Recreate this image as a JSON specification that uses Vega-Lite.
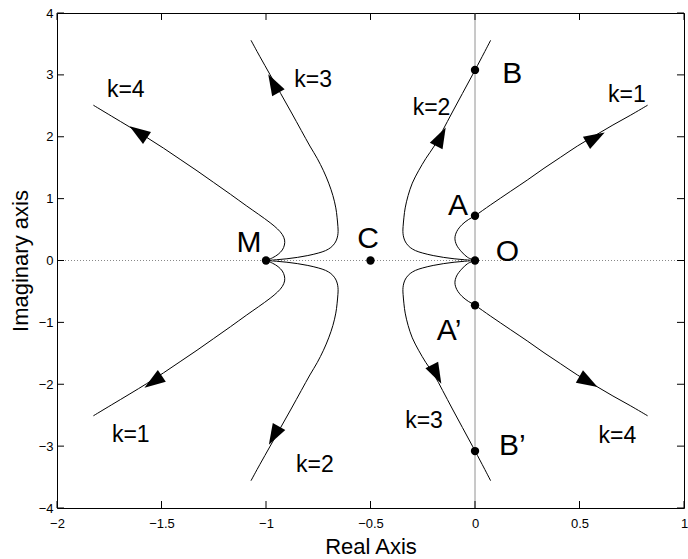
{
  "$schema": "https://vega.github.io/schema/vega-lite/v6.json",
  "width": 627,
  "height": 495,
  "autosize": {"type": "none"},
  "padding": {"left": 57, "top": 13, "right": 4, "bottom": 51},
  "config": {
    "font": "Liberation Sans",
    "view": {"stroke": "black", "strokeWidth": 1},
    "axis": {"grid": false, "domain": false, "ticks": false, "labelColor": "black", "titleColor": "black", "titleFontWeight": "normal", "labelFont": "Liberation Sans", "titleFont": "Liberation Sans"}
  },
  "datasets": {
    "zero": [{"v": 0}],
    "xticks": [{"v": -2}, {"v": -1.5}, {"v": -1}, {"v": -0.5}, {"v": 0}, {"v": 0.5}, {"v": 1}],
    "yticks": [{"v": -4}, {"v": -3}, {"v": -2}, {"v": -1}, {"v": 0}, {"v": 1}, {"v": 2}, {"v": 3}, {"v": 4}],
    "curves": [
      {"c": "U1", "t": 0, "x": -1, "y": 0}, {"c": "U1", "t": 1, "x": -0.968, "y": 0.045}, {"c": "U1", "t": 2, "x": -0.942, "y": 0.1}, {"c": "U1", "t": 3, "x": -0.922, "y": 0.17}, {"c": "U1", "t": 4, "x": -0.912, "y": 0.25}, {"c": "U1", "t": 5, "x": -0.911, "y": 0.33}, {"c": "U1", "t": 6, "x": -0.922, "y": 0.42}, {"c": "U1", "t": 7, "x": -0.945, "y": 0.51}, {"c": "U1", "t": 8, "x": -0.98, "y": 0.61}, {"c": "U1", "t": 9, "x": -1.035, "y": 0.745}, {"c": "U1", "t": 10, "x": -1.092, "y": 0.88}, {"c": "U1", "t": 11, "x": -1.17, "y": 1.07}, {"c": "U1", "t": 12, "x": -1.252, "y": 1.265}, {"c": "U1", "t": 13, "x": -1.33, "y": 1.45}, {"c": "U1", "t": 14, "x": -1.411, "y": 1.635}, {"c": "U1", "t": 15, "x": -1.49, "y": 1.815}, {"c": "U1", "t": 16, "x": -1.571, "y": 1.99}, {"c": "U1", "t": 17, "x": -1.651, "y": 2.155}, {"c": "U1", "t": 18, "x": -1.74, "y": 2.335}, {"c": "U1", "t": 19, "x": -1.826, "y": 2.51},
      {"c": "U2", "t": 0, "x": -1, "y": 0}, {"c": "U2", "t": 1, "x": -0.968, "y": -0.045}, {"c": "U2", "t": 2, "x": -0.942, "y": -0.1}, {"c": "U2", "t": 3, "x": -0.922, "y": -0.17}, {"c": "U2", "t": 4, "x": -0.912, "y": -0.25}, {"c": "U2", "t": 5, "x": -0.911, "y": -0.33}, {"c": "U2", "t": 6, "x": -0.922, "y": -0.42}, {"c": "U2", "t": 7, "x": -0.945, "y": -0.51}, {"c": "U2", "t": 8, "x": -0.98, "y": -0.61}, {"c": "U2", "t": 9, "x": -1.035, "y": -0.745}, {"c": "U2", "t": 10, "x": -1.092, "y": -0.88}, {"c": "U2", "t": 11, "x": -1.17, "y": -1.07}, {"c": "U2", "t": 12, "x": -1.252, "y": -1.265}, {"c": "U2", "t": 13, "x": -1.33, "y": -1.45}, {"c": "U2", "t": 14, "x": -1.411, "y": -1.635}, {"c": "U2", "t": 15, "x": -1.49, "y": -1.815}, {"c": "U2", "t": 16, "x": -1.571, "y": -1.99}, {"c": "U2", "t": 17, "x": -1.651, "y": -2.155}, {"c": "U2", "t": 18, "x": -1.74, "y": -2.335}, {"c": "U2", "t": 19, "x": -1.826, "y": -2.51},
      {"c": "V1", "t": 0, "x": -1, "y": 0}, {"c": "V1", "t": 1, "x": -0.95, "y": 0.012}, {"c": "V1", "t": 2, "x": -0.9, "y": 0.028}, {"c": "V1", "t": 3, "x": -0.85, "y": 0.05}, {"c": "V1", "t": 4, "x": -0.8, "y": 0.08}, {"c": "V1", "t": 5, "x": -0.75, "y": 0.12}, {"c": "V1", "t": 6, "x": -0.715, "y": 0.16}, {"c": "V1", "t": 7, "x": -0.69, "y": 0.21}, {"c": "V1", "t": 8, "x": -0.673, "y": 0.27}, {"c": "V1", "t": 9, "x": -0.663, "y": 0.33}, {"c": "V1", "t": 10, "x": -0.657, "y": 0.4}, {"c": "V1", "t": 11, "x": -0.655, "y": 0.47}, {"c": "V1", "t": 12, "x": -0.656, "y": 0.55}, {"c": "V1", "t": 13, "x": -0.66, "y": 0.7}, {"c": "V1", "t": 14, "x": -0.666, "y": 0.85}, {"c": "V1", "t": 15, "x": -0.68, "y": 1.05}, {"c": "V1", "t": 16, "x": -0.7, "y": 1.25}, {"c": "V1", "t": 17, "x": -0.725, "y": 1.45}, {"c": "V1", "t": 18, "x": -0.755, "y": 1.65}, {"c": "V1", "t": 19, "x": -0.79, "y": 1.85}, {"c": "V1", "t": 20, "x": -0.831, "y": 2.1}, {"c": "V1", "t": 21, "x": -0.88, "y": 2.4}, {"c": "V1", "t": 22, "x": -0.93, "y": 2.7}, {"c": "V1", "t": 23, "x": -0.98, "y": 3.0}, {"c": "V1", "t": 24, "x": -1.03, "y": 3.3}, {"c": "V1", "t": 25, "x": -1.072, "y": 3.56},
      {"c": "V2", "t": 0, "x": -1, "y": 0}, {"c": "V2", "t": 1, "x": -0.95, "y": -0.012}, {"c": "V2", "t": 2, "x": -0.9, "y": -0.028}, {"c": "V2", "t": 3, "x": -0.85, "y": -0.05}, {"c": "V2", "t": 4, "x": -0.8, "y": -0.08}, {"c": "V2", "t": 5, "x": -0.75, "y": -0.12}, {"c": "V2", "t": 6, "x": -0.715, "y": -0.16}, {"c": "V2", "t": 7, "x": -0.69, "y": -0.21}, {"c": "V2", "t": 8, "x": -0.673, "y": -0.27}, {"c": "V2", "t": 9, "x": -0.663, "y": -0.33}, {"c": "V2", "t": 10, "x": -0.657, "y": -0.4}, {"c": "V2", "t": 11, "x": -0.655, "y": -0.47}, {"c": "V2", "t": 12, "x": -0.656, "y": -0.55}, {"c": "V2", "t": 13, "x": -0.66, "y": -0.7}, {"c": "V2", "t": 14, "x": -0.666, "y": -0.85}, {"c": "V2", "t": 15, "x": -0.68, "y": -1.05}, {"c": "V2", "t": 16, "x": -0.7, "y": -1.25}, {"c": "V2", "t": 17, "x": -0.725, "y": -1.45}, {"c": "V2", "t": 18, "x": -0.755, "y": -1.65}, {"c": "V2", "t": 19, "x": -0.79, "y": -1.85}, {"c": "V2", "t": 20, "x": -0.831, "y": -2.1}, {"c": "V2", "t": 21, "x": -0.88, "y": -2.4}, {"c": "V2", "t": 22, "x": -0.93, "y": -2.7}, {"c": "V2", "t": 23, "x": -0.98, "y": -3.0}, {"c": "V2", "t": 24, "x": -1.03, "y": -3.3}, {"c": "V2", "t": 25, "x": -1.072, "y": -3.56},
      {"c": "W1", "t": 0, "x": 0, "y": 0}, {"c": "W1", "t": 1, "x": -0.05, "y": 0.012}, {"c": "W1", "t": 2, "x": -0.1, "y": 0.028}, {"c": "W1", "t": 3, "x": -0.15, "y": 0.05}, {"c": "W1", "t": 4, "x": -0.2, "y": 0.08}, {"c": "W1", "t": 5, "x": -0.25, "y": 0.12}, {"c": "W1", "t": 6, "x": -0.285, "y": 0.16}, {"c": "W1", "t": 7, "x": -0.31, "y": 0.21}, {"c": "W1", "t": 8, "x": -0.327, "y": 0.27}, {"c": "W1", "t": 9, "x": -0.337, "y": 0.33}, {"c": "W1", "t": 10, "x": -0.343, "y": 0.4}, {"c": "W1", "t": 11, "x": -0.345, "y": 0.47}, {"c": "W1", "t": 12, "x": -0.344, "y": 0.55}, {"c": "W1", "t": 13, "x": -0.34, "y": 0.7}, {"c": "W1", "t": 14, "x": -0.334, "y": 0.85}, {"c": "W1", "t": 15, "x": -0.32, "y": 1.05}, {"c": "W1", "t": 16, "x": -0.3, "y": 1.25}, {"c": "W1", "t": 17, "x": -0.27, "y": 1.45}, {"c": "W1", "t": 18, "x": -0.235, "y": 1.65}, {"c": "W1", "t": 19, "x": -0.195, "y": 1.85}, {"c": "W1", "t": 20, "x": -0.155, "y": 2.1}, {"c": "W1", "t": 21, "x": -0.108, "y": 2.4}, {"c": "W1", "t": 22, "x": -0.06, "y": 2.7}, {"c": "W1", "t": 23, "x": -0.012, "y": 3.0}, {"c": "W1", "t": 24, "x": 0.035, "y": 3.3}, {"c": "W1", "t": 25, "x": 0.075, "y": 3.56},
      {"c": "W2", "t": 0, "x": 0, "y": 0}, {"c": "W2", "t": 1, "x": -0.05, "y": -0.012}, {"c": "W2", "t": 2, "x": -0.1, "y": -0.028}, {"c": "W2", "t": 3, "x": -0.15, "y": -0.05}, {"c": "W2", "t": 4, "x": -0.2, "y": -0.08}, {"c": "W2", "t": 5, "x": -0.25, "y": -0.12}, {"c": "W2", "t": 6, "x": -0.285, "y": -0.16}, {"c": "W2", "t": 7, "x": -0.31, "y": -0.21}, {"c": "W2", "t": 8, "x": -0.327, "y": -0.27}, {"c": "W2", "t": 9, "x": -0.337, "y": -0.33}, {"c": "W2", "t": 10, "x": -0.343, "y": -0.4}, {"c": "W2", "t": 11, "x": -0.345, "y": -0.47}, {"c": "W2", "t": 12, "x": -0.344, "y": -0.55}, {"c": "W2", "t": 13, "x": -0.34, "y": -0.7}, {"c": "W2", "t": 14, "x": -0.334, "y": -0.85}, {"c": "W2", "t": 15, "x": -0.32, "y": -1.05}, {"c": "W2", "t": 16, "x": -0.3, "y": -1.25}, {"c": "W2", "t": 17, "x": -0.27, "y": -1.45}, {"c": "W2", "t": 18, "x": -0.235, "y": -1.65}, {"c": "W2", "t": 19, "x": -0.195, "y": -1.85}, {"c": "W2", "t": 20, "x": -0.155, "y": -2.1}, {"c": "W2", "t": 21, "x": -0.108, "y": -2.4}, {"c": "W2", "t": 22, "x": -0.06, "y": -2.7}, {"c": "W2", "t": 23, "x": -0.012, "y": -3.0}, {"c": "W2", "t": 24, "x": 0.035, "y": -3.3}, {"c": "W2", "t": 25, "x": 0.075, "y": -3.56},
      {"c": "X1", "t": 0, "x": 0, "y": 0}, {"c": "X1", "t": 1, "x": -0.035, "y": 0.05}, {"c": "X1", "t": 2, "x": -0.064, "y": 0.14}, {"c": "X1", "t": 3, "x": -0.088, "y": 0.25}, {"c": "X1", "t": 4, "x": -0.096, "y": 0.36}, {"c": "X1", "t": 5, "x": -0.087, "y": 0.47}, {"c": "X1", "t": 6, "x": -0.062, "y": 0.58}, {"c": "X1", "t": 7, "x": -0.032, "y": 0.66}, {"c": "X1", "t": 8, "x": 0, "y": 0.724}, {"c": "X1", "t": 9, "x": 0.075, "y": 0.9}, {"c": "X1", "t": 10, "x": 0.171, "y": 1.12}, {"c": "X1", "t": 11, "x": 0.25, "y": 1.3}, {"c": "X1", "t": 12, "x": 0.33, "y": 1.49}, {"c": "X1", "t": 13, "x": 0.41, "y": 1.67}, {"c": "X1", "t": 14, "x": 0.49, "y": 1.85}, {"c": "X1", "t": 15, "x": 0.577, "y": 2.025}, {"c": "X1", "t": 16, "x": 0.66, "y": 2.19}, {"c": "X1", "t": 17, "x": 0.745, "y": 2.35}, {"c": "X1", "t": 18, "x": 0.826, "y": 2.51},
      {"c": "X2", "t": 0, "x": 0, "y": 0}, {"c": "X2", "t": 1, "x": -0.035, "y": -0.05}, {"c": "X2", "t": 2, "x": -0.064, "y": -0.14}, {"c": "X2", "t": 3, "x": -0.088, "y": -0.25}, {"c": "X2", "t": 4, "x": -0.096, "y": -0.36}, {"c": "X2", "t": 5, "x": -0.087, "y": -0.47}, {"c": "X2", "t": 6, "x": -0.062, "y": -0.58}, {"c": "X2", "t": 7, "x": -0.032, "y": -0.66}, {"c": "X2", "t": 8, "x": 0, "y": -0.724}, {"c": "X2", "t": 9, "x": 0.075, "y": -0.9}, {"c": "X2", "t": 10, "x": 0.171, "y": -1.12}, {"c": "X2", "t": 11, "x": 0.25, "y": -1.3}, {"c": "X2", "t": 12, "x": 0.33, "y": -1.49}, {"c": "X2", "t": 13, "x": 0.41, "y": -1.67}, {"c": "X2", "t": 14, "x": 0.49, "y": -1.85}, {"c": "X2", "t": 15, "x": 0.577, "y": -2.025}, {"c": "X2", "t": 16, "x": 0.66, "y": -2.19}, {"c": "X2", "t": 17, "x": 0.745, "y": -2.35}, {"c": "X2", "t": 18, "x": 0.826, "y": -2.51}
    ],
    "arrows": [
      {"x": -1.611, "y": 2.075, "dir": 304},
      {"x": -0.965, "y": 2.86, "dir": 331},
      {"x": -0.163, "y": 2.0, "dir": 27},
      {"x": 0.577, "y": 1.985, "dir": 60},
      {"x": -1.54, "y": -1.96, "dir": 236},
      {"x": -0.962, "y": -2.83, "dir": 209},
      {"x": -0.184, "y": -1.84, "dir": 153},
      {"x": 0.543, "y": -1.96, "dir": 120}
    ],
    "dots": [
      {"name": "M", "x": -1, "y": 0},
      {"name": "C", "x": -0.5, "y": 0},
      {"name": "O", "x": 0, "y": 0},
      {"name": "A", "x": 0, "y": 0.724},
      {"name": "A’", "x": 0, "y": -0.724},
      {"name": "B", "x": 0, "y": 3.08},
      {"name": "B’", "x": 0, "y": -3.08}
    ],
    "points": [
      {"label": "M", "x": -1.081, "y": 0.137},
      {"label": "C", "x": -0.512, "y": 0.197},
      {"label": "O", "x": 0.155, "y": -0.01},
      {"label": "A", "x": -0.081, "y": 0.735},
      {"label": "B", "x": 0.178, "y": 2.863},
      {"label": "A’", "x": -0.124, "y": -1.284},
      {"label": "B’", "x": 0.179, "y": -3.142}
    ],
    "klabels": [
      {"label": "k=4", "x": -1.671, "y": 2.646},
      {"label": "k=3", "x": -0.774, "y": 2.798},
      {"label": "k=2", "x": -0.208, "y": 2.35},
      {"label": "k=1", "x": 0.727, "y": 2.565},
      {"label": "k=1", "x": -1.647, "y": -2.927},
      {"label": "k=2", "x": -0.766, "y": -3.412},
      {"label": "k=3", "x": -0.244, "y": -2.711},
      {"label": "k=4", "x": 0.681, "y": -2.953}
    ]
  },
  "layer": [
    {
      "data": {"name": "curves"},
      "mark": {"type": "line", "color": "black", "strokeWidth": 1, "interpolate": "catmull-rom", "clip": true},
      "encoding": {
        "x": {"field": "x", "type": "quantitative", "scale": {"domain": [-2, 1], "nice": false, "zero": false},
              "axis": {"orient": "bottom", "values": [-2, -1.5, -1, -0.5, 0, 0.5, 1], "format": "~g", "labelPadding": 9, "labelFontSize": 13, "labelOverlap": false, "labelFlush": false, "title": "Real Axis", "titleFontSize": 22, "titleBaseline": "alphabetic", "titleY": 45}},
        "y": {"field": "y", "type": "quantitative", "scale": {"domain": [-4, 4], "nice": false, "zero": false},
              "axis": {"orient": "left", "values": [-4, -3, -2, -1, 0, 1, 2, 3, 4], "format": "~g", "labelPadding": 4, "labelFontSize": 13, "labelOverlap": false, "labelFlush": false, "title": "Imaginary axis", "titleFontSize": 22, "titleBaseline": "alphabetic", "titleX": -29.5}},
        "detail": {"field": "c"},
        "order": {"field": "t", "type": "quantitative"}
      }
    },
    {
      "data": {"name": "zero"},
      "mark": {"type": "rule", "color": "#777777", "strokeWidth": 0.8},
      "encoding": {
        "x": {"field": "v", "type": "quantitative", "scale": {"domain": [-2, 1], "nice": false, "zero": false}, "axis": null}
      }
    },
    {
      "data": {"name": "zero"},
      "mark": {"type": "rule", "color": "#888888", "strokeWidth": 1, "strokeDash": [1, 2]},
      "encoding": {
        "y": {"field": "v", "type": "quantitative", "scale": {"domain": [-4, 4], "nice": false, "zero": false}, "axis": null}
      }
    },
    {
      "data": {"name": "xticks"},
      "mark": {"type": "rule", "color": "black", "strokeWidth": 1},
      "encoding": {
        "x": {"field": "v", "type": "quantitative", "scale": {"domain": [-2, 1], "nice": false, "zero": false}, "axis": null},
        "y": {"datum": -4, "type": "quantitative", "scale": {"domain": [-4, 4], "nice": false, "zero": false}, "axis": null},
        "y2": {"datum": -3.887}
      }
    },
    {
      "data": {"name": "xticks"},
      "mark": {"type": "rule", "color": "black", "strokeWidth": 1},
      "encoding": {
        "x": {"field": "v", "type": "quantitative", "scale": {"domain": [-2, 1], "nice": false, "zero": false}, "axis": null},
        "y": {"datum": 4, "type": "quantitative", "scale": {"domain": [-4, 4], "nice": false, "zero": false}, "axis": null},
        "y2": {"datum": 3.887}
      }
    },
    {
      "data": {"name": "yticks"},
      "mark": {"type": "rule", "color": "black", "strokeWidth": 1},
      "encoding": {
        "y": {"field": "v", "type": "quantitative", "scale": {"domain": [-4, 4], "nice": false, "zero": false}, "axis": null},
        "x": {"datum": -2, "type": "quantitative", "scale": {"domain": [-2, 1], "nice": false, "zero": false}, "axis": null},
        "x2": {"datum": -1.9665}
      }
    },
    {
      "data": {"name": "yticks"},
      "mark": {"type": "rule", "color": "black", "strokeWidth": 1},
      "encoding": {
        "y": {"field": "v", "type": "quantitative", "scale": {"domain": [-4, 4], "nice": false, "zero": false}, "axis": null},
        "x": {"datum": 1, "type": "quantitative", "scale": {"domain": [-2, 1], "nice": false, "zero": false}, "axis": null},
        "x2": {"datum": 0.9665}
      }
    },
    {
      "data": {"name": "arrows"},
      "mark": {"type": "point", "shape": "M0,-1L0.68,1L-0.68,1Z", "filled": true, "size": 441, "color": "black", "opacity": 1, "strokeWidth": 0},
      "encoding": {
        "x": {"field": "x", "type": "quantitative", "scale": {"domain": [-2, 1], "nice": false, "zero": false}, "axis": null},
        "y": {"field": "y", "type": "quantitative", "scale": {"domain": [-4, 4], "nice": false, "zero": false}, "axis": null},
        "angle": {"field": "dir", "type": "quantitative", "scale": null}
      }
    },
    {
      "data": {"name": "dots"},
      "mark": {"type": "circle", "size": 70, "color": "black", "opacity": 1},
      "encoding": {
        "x": {"field": "x", "type": "quantitative", "scale": {"domain": [-2, 1], "nice": false, "zero": false}, "axis": null},
        "y": {"field": "y", "type": "quantitative", "scale": {"domain": [-4, 4], "nice": false, "zero": false}, "axis": null}
      }
    },
    {
      "data": {"name": "points"},
      "mark": {"type": "text", "fontSize": 30, "font": "Liberation Sans", "color": "black", "align": "center", "baseline": "alphabetic"},
      "encoding": {
        "x": {"field": "x", "type": "quantitative", "scale": {"domain": [-2, 1], "nice": false, "zero": false}, "axis": null},
        "y": {"field": "y", "type": "quantitative", "scale": {"domain": [-4, 4], "nice": false, "zero": false}, "axis": null},
        "text": {"field": "label"}
      }
    },
    {
      "data": {"name": "klabels"},
      "mark": {"type": "text", "fontSize": 23, "font": "Liberation Sans", "color": "black", "align": "center", "baseline": "alphabetic"},
      "encoding": {
        "x": {"field": "x", "type": "quantitative", "scale": {"domain": [-2, 1], "nice": false, "zero": false}, "axis": null},
        "y": {"field": "y", "type": "quantitative", "scale": {"domain": [-4, 4], "nice": false, "zero": false}, "axis": null},
        "text": {"field": "label"}
      }
    }
  ],
  "resolve": {"axis": {"x": "independent", "y": "independent"}}
}
